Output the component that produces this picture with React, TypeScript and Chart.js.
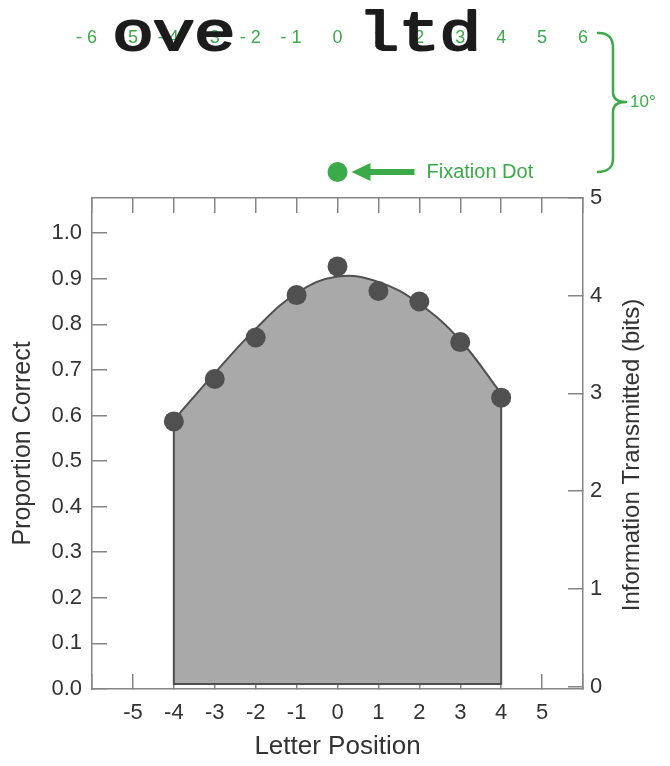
import React, { useEffect, useRef } from "react";
import { Chart, registerables } from "chart.js";

Chart.register(...registerables);

// ---- data ----
const letterPositions = [-4, -3, -2, -1, 0, 1, 2, 3, 4];
const proportionCorrect = [0.587, 0.68, 0.771, 0.864, 0.927, 0.873, 0.85, 0.761, 0.639];
const fittedCurve = [0.59, 0.693, 0.79, 0.868, 0.905, 0.893, 0.845, 0.765, 0.648];
const areaFloor = 0.011;
const xTickValues = [-6, -5, -4, -3, -2, -1, 0, 1, 2, 3, 4, 5, 6];
const leftTickValues = [0, 0.1, 0.2, 0.3, 0.4, 0.5, 0.6, 0.7, 0.8, 0.9, 1.0];
const rightTickValues = [0, 1, 2, 3, 4, 5];
const eccentricityLabels = [-6, -5, -4, -3, -2, -1, 0, 1, 2, 3, 4, 5, 6];
const stimulusLetters = ["o", "v", "e", "l", "t", "d"];
const stimulusPositions = [-5, -4, -3, 1, 2, 3];
const fixationPosition = 0;

const GREEN = "#3bab4a";
const DARK = "#505050";
const FILL = "#a9a9a9";
const AXIS = "#858585";
const TEXT = "#333333";
const SANS = '"Liberation Sans", Arial, Helvetica, sans-serif';

const annotationPlugin = {
  id: "annotations",
  afterDraw(chart: any) {
    const ctx: CanvasRenderingContext2D = chart.ctx;
    const xs = chart.scales.x;
    const area = chart.chartArea;
    ctx.save();

    // green eccentricity numbers
    ctx.fillStyle = GREEN;
    ctx.font = `18px ${SANS}`;
    ctx.textBaseline = "middle";
    eccentricityLabels.forEach((v) => {
      const digits = String(Math.abs(v));
      const w = ctx.measureText(digits).width;
      const px = xs.getPixelForValue(v);
      ctx.textAlign = "right";
      ctx.fillText(v < 0 ? "- " + digits : digits, px + w / 2, 38);
    });

    // stimulus letters (Courier-like: wide glyphs, small x-height)
    ctx.fillStyle = "#1c1c1c";
    ctx.strokeStyle = "#1c1c1c";
    ctx.lineWidth = 2;
    ctx.lineJoin = "round";
    ctx.font = `56px "Liberation Mono", "Courier New", monospace`;
    ctx.textAlign = "center";
    ctx.textBaseline = "alphabetic";
    stimulusLetters.forEach((ch, i) => {
      const px = xs.getPixelForValue(stimulusPositions[i]);
      ctx.save();
      ctx.translate(px, 50);
      ctx.scale(1.25, 1);
      ctx.fillText(ch, 0, 0);
      ctx.strokeText(ch, 0, 0);
      ctx.restore();
    });

    // fixation dot + arrow + label
    const cx = xs.getPixelForValue(fixationPosition);
    const cy = 172;
    ctx.fillStyle = GREEN;
    ctx.strokeStyle = GREEN;
    ctx.beginPath();
    ctx.arc(cx, cy, 10, 0, Math.PI * 2);
    ctx.fill();
    ctx.lineWidth = 6;
    ctx.beginPath();
    ctx.moveTo(cx + 77, cy);
    ctx.lineTo(cx + 30, cy);
    ctx.stroke();
    ctx.beginPath();
    ctx.moveTo(cx + 14, cy);
    ctx.lineTo(cx + 33, cy - 9);
    ctx.lineTo(cx + 33, cy + 9);
    ctx.closePath();
    ctx.fill();
    ctx.font = `20px ${SANS}`;
    ctx.textAlign = "left";
    ctx.textBaseline = "middle";
    ctx.fillText("Fixation Dot", cx + 89, cy);

    // curly brace
    const bx = area.right + 30;
    ctx.lineWidth = 2.5;
    ctx.beginPath();
    ctx.moveTo(bx - 16, 33);
    ctx.bezierCurveTo(bx - 5, 32, bx, 38, bx, 48);
    ctx.lineTo(bx, 92);
    ctx.bezierCurveTo(bx, 99, bx + 4, 102, bx + 13, 102);
    ctx.bezierCurveTo(bx + 4, 102, bx, 105, bx, 112);
    ctx.lineTo(bx, 158);
    ctx.bezierCurveTo(bx, 168, bx - 5, 172, bx - 16, 172);
    ctx.stroke();
    ctx.font = `17px ${SANS}`;
    ctx.fillText("10°", bx + 17, 102);

    // right axis title (reads bottom to top)
    ctx.fillStyle = TEXT;
    ctx.font = `24px ${SANS}`;
    ctx.textAlign = "center";
    ctx.textBaseline = "middle";
    ctx.translate(632, 455);
    ctx.rotate(-Math.PI / 2);
    ctx.fillText("Information Transmitted (bits)", 0, 0);
    ctx.restore();
  },
};

function zeroPad(s: any) {
  s.paddingLeft = 0;
  s.paddingRight = 0;
  s.paddingTop = 0;
  s.paddingBottom = 0;
}

const gridOpts = {
  drawOnChartArea: false,
  drawTicks: true,
  tickLength: -15,
  color: AXIS,
  lineWidth: 1.5,
};
const borderOpts = { display: true, color: AXIS, width: 1.5 };

export default function App() {
  const canvasRef = useRef<HTMLCanvasElement | null>(null);

  useEffect(() => {
    document.body.style.margin = "0";
    const canvas = canvasRef.current;
    if (!canvas) return;
    const chart = new Chart(canvas, {
      type: "line",
      data: {
        datasets: [
          {
            label: "Proportion correct",
            data: letterPositions.map((x, i) => ({ x, y: proportionCorrect[i] })),
            showLine: false,
            pointRadius: 10,
            pointHoverRadius: 10,
            pointBackgroundColor: DARK,
            pointBorderWidth: 0,
            order: 0,
            xAxisID: "x",
            yAxisID: "y",
          },
          {
            label: "outline",
            data: [
              { x: letterPositions[0], y: fittedCurve[0] },
              { x: letterPositions[0], y: areaFloor },
              { x: letterPositions[letterPositions.length - 1], y: areaFloor },
              { x: letterPositions[letterPositions.length - 1], y: fittedCurve[fittedCurve.length - 1] },
            ],
            borderColor: DARK,
            borderWidth: 2,
            pointRadius: 0,
            tension: 0,
            fill: false,
            order: 1,
            xAxisID: "x",
            yAxisID: "y",
          },
          {
            label: "fit",
            data: letterPositions.map((x, i) => ({ x, y: fittedCurve[i] })),
            borderColor: DARK,
            borderWidth: 2,
            pointRadius: 0,
            tension: 0.4,
            fill: { value: areaFloor },
            backgroundColor: FILL,
            order: 2,
            xAxisID: "x",
            yAxisID: "y",
          },
        ],
      },
      options: {
        animation: false,
        responsive: false,
        devicePixelRatio: 1,
        layout: { padding: { top: 198, left: 0, right: 0, bottom: 0 } },
        plugins: { legend: { display: false }, tooltip: { enabled: false } },
        events: [],
        scales: {
          x: {
            type: "linear",
            position: "bottom",
            min: -6,
            max: 6,
            afterBuildTicks: (s: any) => {
              s.ticks = xTickValues.map((v) => ({ value: v }));
            },
            ticks: {
              callback: (v: any) => (Math.abs(Number(v)) === 6 ? "" : String(v)),
              font: { size: 22, family: SANS },
              color: TEXT,
              padding: 26,
              maxRotation: 0,
              autoSkip: false,
            },
            grid: gridOpts,
            border: borderOpts,
            title: {
              display: true,
              text: "Letter Position",
              font: { size: 26, family: SANS },
              color: TEXT,
              padding: { top: 0, bottom: 4 },
            },
            afterFit: (s: any) => {
              s.height = 77;
              zeroPad(s);
            },
          },
          xTop: {
            type: "linear",
            position: "top",
            min: -6,
            max: 6,
            afterBuildTicks: (s: any) => {
              s.ticks = xTickValues.map((v) => ({ value: v }));
            },
            ticks: { display: false },
            grid: gridOpts,
            border: borderOpts,
            afterFit: (s: any) => {
              s.height = 0;
              zeroPad(s);
            },
          },
          y: {
            type: "linear",
            position: "left",
            min: 0,
            max: 1.077,
            afterBuildTicks: (s: any) => {
              s.ticks = leftTickValues.map((v) => ({ value: v }));
            },
            ticks: {
              callback: (v: any) => Number(v).toFixed(1),
              font: { size: 22, family: SANS },
              color: TEXT,
              padding: 25,
            },
            grid: gridOpts,
            border: borderOpts,
            title: {
              display: true,
              text: "Proportion Correct",
              font: { size: 25, family: SANS },
              color: TEXT,
              padding: { top: 8, bottom: 0 },
            },
            afterFit: (s: any) => {
              s.width = 92;
              zeroPad(s);
            },
          },
          y2: {
            type: "linear",
            position: "right",
            min: -0.026,
            max: 5,
            afterBuildTicks: (s: any) => {
              s.ticks = rightTickValues.map((v) => ({ value: v }));
            },
            ticks: {
              callback: (v: any) => String(v),
              font: { size: 22, family: SANS },
              color: TEXT,
              padding: 22,
            },
            grid: gridOpts,
            border: borderOpts,
            afterFit: (s: any) => {
              s.width = 87;
              zeroPad(s);
            },
          },
        },
      },
      plugins: [annotationPlugin],
    } as any);
    return () => chart.destroy();
  }, []);

  return (
    <div style={{ width: 670, height: 766 }}>
      <canvas ref={canvasRef} width={670} height={766} style={{ display: "block" }} />
    </div>
  );
}
